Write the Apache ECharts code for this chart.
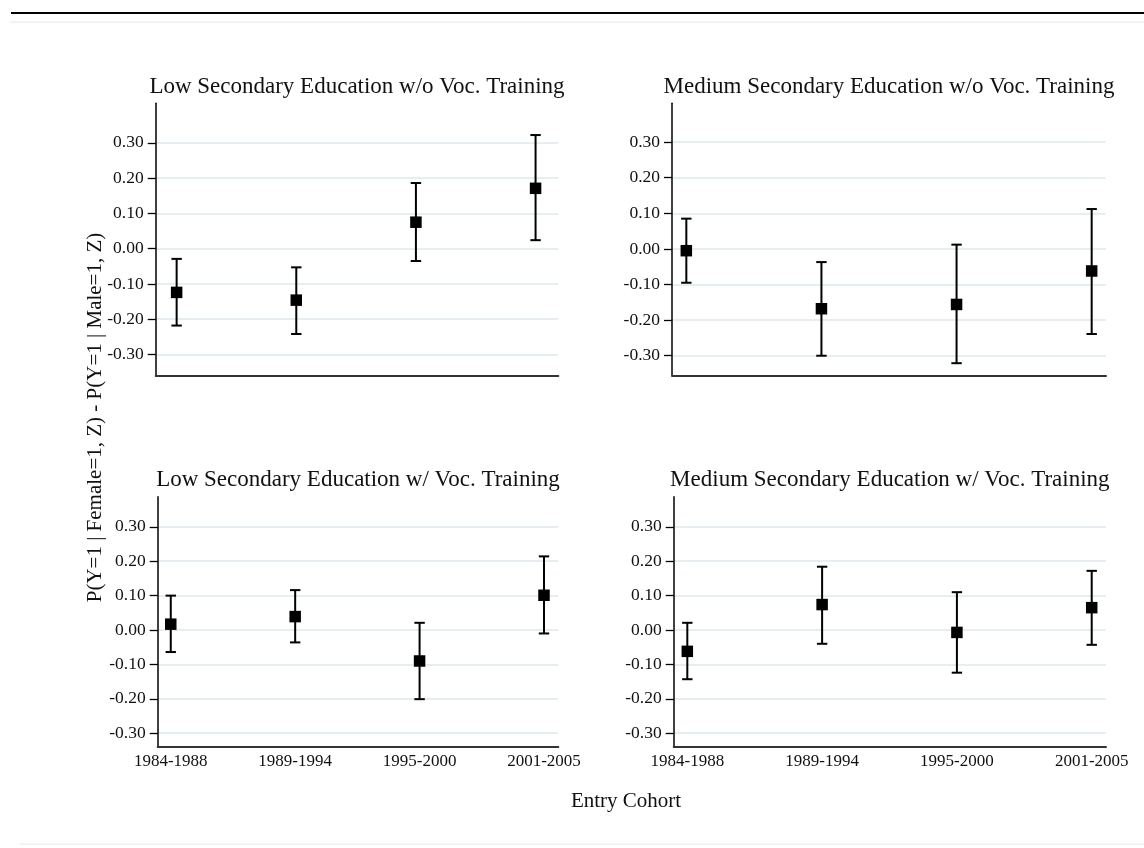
<!DOCTYPE html>
<html>
<head>
<meta charset="utf-8">
<script src="https://cdn.jsdelivr.net/npm/echarts@6/dist/echarts.min.js"></script>
<style>
html,body{margin:0;padding:0;background:#fff;}
#chart{width:1144px;height:848px;}
</style>
</head>
<body>
<div id="chart"></div>
<script>
// ---- data ----
var categories = ['1984-1988', '1989-1994', '1995-2000', '2001-2005'];
var yTicks = [-0.3, -0.2, -0.1, 0.0, 0.1, 0.2, 0.3];

var panelTitles = [
  'Low Secondary Education w/o Voc. Training',
  'Medium Secondary Education w/o Voc. Training',
  'Low Secondary Education w/ Voc. Training',
  'Medium Secondary Education w/ Voc. Training'
];

var lowNoVocEst  = [-0.124, -0.146, 0.075, 0.171];
var lowNoVocLo   = [-0.218, -0.242, -0.035, 0.024];
var lowNoVocHi   = [-0.029, -0.053, 0.186, 0.322];

var medNoVocEst  = [-0.005, -0.168, -0.156, -0.062];
var medNoVocLo   = [-0.095, -0.300, -0.321, -0.239];
var medNoVocHi   = [0.085, -0.037, 0.012, 0.112];

var lowVocEst    = [0.017, 0.039, -0.090, 0.101];
var lowVocLo     = [-0.064, -0.036, -0.201, -0.010];
var lowVocHi     = [0.100, 0.116, 0.021, 0.214];

var medVocEst    = [-0.062, 0.074, -0.007, 0.065];
var medVocLo     = [-0.143, -0.040, -0.124, -0.043];
var medVocHi     = [0.021, 0.184, 0.110, 0.172];

var yAxisTitle = 'P(Y=1 | Female=1, Z) - P(Y=1 | Male=1, Z)';
var xAxisTitle = 'Entry Cohort';

// ---- layout / style ----
var FONT = "'Liberation Serif', 'Times New Roman', serif";
var panels = [
  {est: lowNoVocEst, lo: lowNoVocLo, hi: lowNoVocHi, grid: {left: 155.7, top: 103.3, width: 402.6, height: 272.7}, x: [0.825, 4.19], y: [-0.361, 0.412], showX: false, titleY: 87},
  {est: medNoVocEst, lo: medNoVocLo, hi: medNoVocHi, grid: {left: 672, top: 103.3, width: 434, height: 272}, x: [0.894, 4.106], y: [-0.355, 0.409], showX: false, titleY: 87},
  {est: lowVocEst, lo: lowVocLo, hi: lowVocHi, grid: {left: 157.7, top: 496.7, width: 400.6, height: 250.3}, x: [0.895, 4.115], y: [-0.340, 0.3875], showX: true, titleY: 480},
  {est: medVocEst, lo: medVocLo, hi: medVocHi, grid: {left: 673.7, top: 496.7, width: 432.3, height: 250.3}, x: [0.899, 4.106], y: [-0.340, 0.3875], showX: true, titleY: 480}
];

var grids = [], xAxes = [], yAxes = [], series = [], graphics = [];

panels.forEach(function (p, i) {
  grids.push(Object.assign({containLabel: false}, p.grid));
  xAxes.push({
    type: 'value', gridIndex: i, min: p.x[0], max: p.x[1],
    axisLine: {show: true, onZero: false, lineStyle: {color: '#333', width: 2}},
    axisTick: {show: false},
    splitLine: {show: false},
    axisLabel: {
      show: p.showX, customValues: [1, 2, 3, 4], margin: 6,
      fontFamily: FONT, fontSize: 17, color: '#111',
      formatter: function (v) { return categories[Math.round(v) - 1] || ''; }
    }
  });
  yAxes.push({
    type: 'value', gridIndex: i, min: p.y[0], max: p.y[1],
    axisLine: {show: true, onZero: false, lineStyle: {color: '#000', width: 1.5}},
    axisTick: {show: true, customValues: yTicks, length: 8, lineStyle: {color: '#000', width: 1.3}},
    splitLine: {show: false},
    axisLabel: {
      customValues: yTicks, margin: 12, fontFamily: FONT, fontSize: 17.5, color: '#111',
      formatter: function (v) { return v.toFixed(2); }
    }
  });
  // gridlines
  series.push({
    type: 'line', xAxisIndex: i, yAxisIndex: i, data: [], z: 0, zlevel: 0, silent: true,
    markLine: {
      silent: true, symbol: ['none', 'none'], label: {show: false}, z: 0,
      lineStyle: {color: '#e6eef1', width: 2, type: 'solid'},
      emphasis: {disabled: true},
      data: yTicks.map(function (t) { return {yAxis: t}; })
    }
  });
  // error bars
  var ebData = p.est.map(function (e, k) { return [k + 1, p.lo[k], p.hi[k]]; });
  series.push({
    type: 'custom', xAxisIndex: i, yAxisIndex: i, z: 20, silent: true,
    data: ebData,
    renderItem: function (params, api) {
      var x = api.value(0);
      var lo = api.coord([x, api.value(1)]);
      var hi = api.coord([x, api.value(2)]);
      var hw = 5.2;
      var st = {stroke: '#000', lineWidth: 2};
      return {
        type: 'group',
        children: [
          {type: 'line', shape: {x1: lo[0], y1: lo[1], x2: hi[0], y2: hi[1]}, style: st},
          {type: 'line', shape: {x1: lo[0] - hw, y1: lo[1], x2: lo[0] + hw, y2: lo[1]}, style: st},
          {type: 'line', shape: {x1: hi[0] - hw, y1: hi[1], x2: hi[0] + hw, y2: hi[1]}, style: st}
        ]
      };
    }
  });
  // point estimates
  series.push({
    type: 'scatter', xAxisIndex: i, yAxisIndex: i, z: 21, silent: true,
    symbol: 'rect', symbolSize: 11.5,
    itemStyle: {color: '#000', opacity: 1},
    data: p.est.map(function (e, k) { return [k + 1, e]; })
  });
  graphics.push({
    type: 'text', x: p.grid.left + p.grid.width / 2, y: p.titleY,
    style: {text: panelTitles[i], font: '23px ' + FONT, fill: '#111', textAlign: 'center', textVerticalAlign: 'middle'}
  });
});

// frame lines
graphics.push({type: 'rect', shape: {x: 11, y: 12, width: 1133, height: 2}, style: {fill: '#000'}});
graphics.push({type: 'rect', shape: {x: 10, y: 21.5, width: 1134, height: 1.2}, style: {fill: '#e6eef1'}});
graphics.push({type: 'rect', shape: {x: 20, y: 843.5, width: 1124, height: 1.2}, style: {fill: '#e6eef1'}});
// axis titles
graphics.push({
  type: 'text', x: 95, y: 417.5, rotation: Math.PI / 2,
  style: {text: yAxisTitle, font: '21px ' + FONT, fill: '#111', textAlign: 'center', textVerticalAlign: 'middle'}
});
graphics.push({
  type: 'text', x: 626, y: 801,
  style: {text: xAxisTitle, font: '21px ' + FONT, fill: '#111', textAlign: 'center', textVerticalAlign: 'middle'}
});

var chart = echarts.init(document.getElementById('chart'), null, {renderer: 'canvas'});
chart.setOption({
  backgroundColor: '#fff',
  animation: false,
  grid: grids,
  xAxis: xAxes,
  yAxis: yAxes,
  series: series,
  graphic: graphics
});
</script>
</body>
</html>
